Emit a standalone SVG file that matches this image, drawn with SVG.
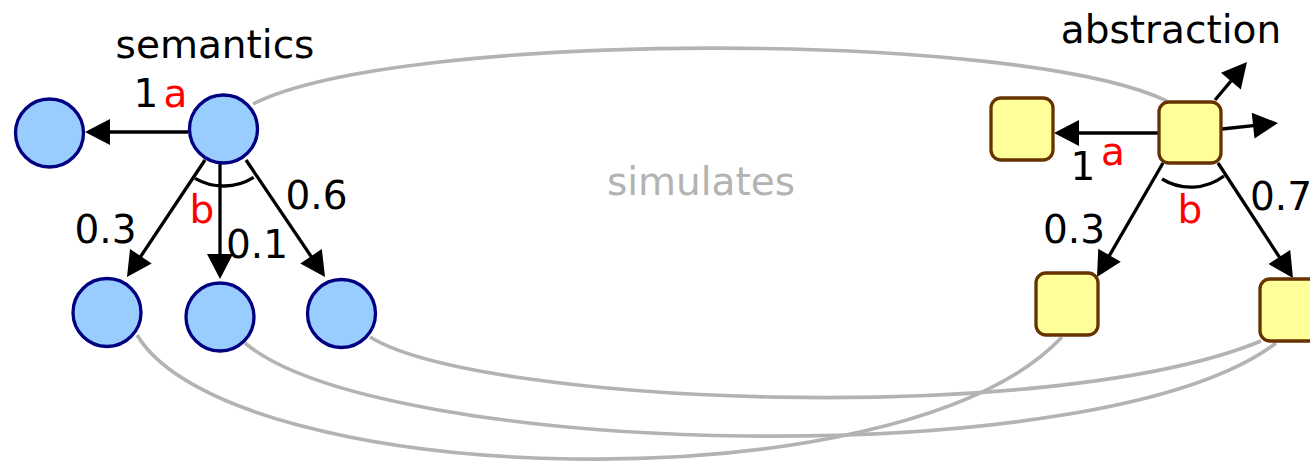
<svg xmlns="http://www.w3.org/2000/svg" width="1310" height="462" viewBox="0 0 1310 462">
  <style>
    .state { fill: #99ccff; stroke: #000080; stroke-width: 3.3; }
    .abs { fill: #ffff99; stroke: #663300; stroke-width: 3.3; }
    .edge { fill: none; stroke: #000; stroke-width: 3.3; marker-end: url(#arrow); }
    .angle { fill: none; stroke: #000; stroke-width: 3.3; }
    .sim { fill: none; stroke: #b3b3b3; stroke-width: 3.6; }
    text { font-family: "DejaVu Sans", "Liberation Sans", sans-serif; font-size: 39px; }
    .lbl { fill: #000; text-anchor: middle; }
    .act { fill: #ff0000; text-anchor: middle; }
    .title { fill: #000; text-anchor: middle; }
    .rel { fill: #b3b3b3; text-anchor: middle; }
  </style>
  <defs>
    <marker id="arrow" markerUnits="userSpaceOnUse" markerWidth="26" markerHeight="26" viewBox="0 0 25 26" refX="21" refY="13" orient="auto">
      <path d="M0,0 L25,13 L0,26 z" fill="#000"/>
    </marker>
  </defs>

  <!-- simulation relation between concrete and abstract states -->
  <g id="simulation">
    <path class="sim" d="M253,104 C400,30 1020,30 1167,101"/>
    <path class="sim" d="M370,337 C480,405 1050,428 1261,341"/>
    <path class="sim" d="M245,343 C380,457 1100,477 1276,343"/>
    <path class="sim" d="M137,335 C230,490 900,510 1062,337"/>
  </g>

  <!-- transitions -->
  <g id="connectors">
    <line class="edge" x1="188" y1="132" x2="89" y2="132"/>
    <line class="edge" x1="205" y1="160" x2="129.2" y2="273.7"/>
    <line class="edge" x1="220" y1="164" x2="220" y2="275"/>
    <line class="edge" x1="246" y1="160" x2="322.8" y2="273.7"/>
    <path class="angle" d="M195,178.4 A57,57 0 0,0 253.7,177.3"/>

    <line class="edge" x1="1159" y1="133" x2="1058" y2="133"/>
    <line class="edge" x1="1215" y1="100" x2="1244.4" y2="65.1"/>
    <line class="edge" x1="1222" y1="129" x2="1274" y2="123.4"/>
    <line class="edge" x1="1163" y1="163" x2="1099" y2="273.5"/>
    <line class="edge" x1="1218" y1="163" x2="1290.8" y2="274.6"/>
    <path class="angle" d="M1162,179 A55,55 0 0,0 1224,176"/>
  </g>

  <!-- concrete states -->
  <g id="s0"><circle class="state" cx="223.5" cy="129" r="34"/></g>
  <g id="s1"><circle class="state" cx="49.5" cy="133" r="34"/></g>
  <g id="s2"><circle class="state" cx="107" cy="312.5" r="34"/></g>
  <g id="s3"><circle class="state" cx="220" cy="317" r="34"/></g>
  <g id="s4"><circle class="state" cx="341.5" cy="313.5" r="34"/></g>

  <!-- abstract states -->
  <g id="t0"><rect class="abs" x="1159" y="102" width="62" height="61" rx="10"/></g>
  <g id="t1"><rect class="abs" x="991" y="98" width="62" height="62" rx="10"/></g>
  <g id="t2"><rect class="abs" x="1036" y="273" width="62" height="62" rx="10"/></g>
  <g id="t3"><rect class="abs" x="1260" y="279" width="62" height="62" rx="10"/></g>

  <!-- labels -->
  <g id="labels">
    <text class="title" x="215" y="58">semantics</text>
    <text class="title" x="1171" y="43">abstraction</text>
    <text class="rel" x="701" y="195">simulates</text>

    <text class="lbl" x="146" y="107">1</text>
    <text class="act" x="175.5" y="107">a</text>
    <text class="act" x="202" y="223">b</text>
    <text class="lbl" x="105.5" y="243">0.3</text>
    <text class="lbl" x="257" y="258">0.1</text>
    <text class="lbl" x="316.5" y="209">0.6</text>

    <text class="lbl" x="1083" y="180">1</text>
    <text class="act" x="1113" y="165">a</text>
    <text class="act" x="1190" y="223">b</text>
    <text class="lbl" x="1074" y="243">0.3</text>
    <text class="lbl" x="1250" y="210" style="text-anchor:start">0.7</text>
  </g>
</svg>
